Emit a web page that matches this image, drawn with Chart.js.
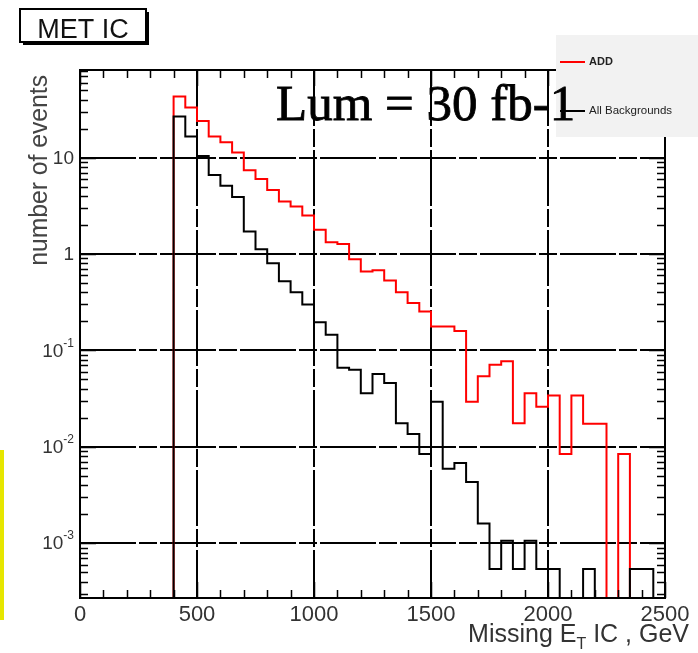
<!DOCTYPE html>
<html>
<head>
<meta charset="utf-8">
<title>MET IC</title>
<script src="https://cdn.jsdelivr.net/npm/chart.js@4.4.1/dist/chart.umd.min.js"></script>
<style>
    html, body { margin: 0; padding: 0; background: #fff; }
    #wrap { position: relative; width: 698px; height: 653px; }
</style>
</head>
<body>
<div id="wrap"><canvas id="met-chart" width="698" height="653"></canvas></div>
<script>
// Bin low edges in GeV (50 GeV bins), histogram ends at binEnd
const binEdges = [400, 450, 500, 550, 600, 650, 700, 750, 800, 850,
    900, 950, 1000, 1050, 1100, 1150, 1200, 1250, 1300, 1350,
    1400, 1450, 1500, 1550, 1600, 1650, 1700, 1750, 1800, 1850,
    1900, 1950, 2000, 2050, 2100, 2150, 2200, 2250, 2300, 2350,
    2400, 2450];
const binEnd = 2500;

// ADD signal (red)
const addCounts = [43, 33, 24, 16.5, 14.4, 11.3, 7.4, 6.0, 4.6, 3.5,
    3.1, 2.5, 1.78, 1.32, 1.27, 0.88, 0.66, 0.68, 0.53, 0.40,
    0.31, 0.253, 0.177, 0.177, 0.159, 0.0294, 0.054, 0.071, 0.077, 0.0175,
    0.036, 0.026, 0.034, 0.0084, 0.034, 0.0173, 0.0173, 0, 0.0084, 0,
    0, 0];

// All backgrounds (black)
const bkgCounts = [26.6, 16.5, 10.4, 6.6, 5.1, 3.9, 1.71, 1.12, 0.80, 0.52,
    0.40, 0.30, 0.196, 0.145, 0.066, 0.063, 0.036, 0.057, 0.046, 0.0175,
    0.0136, 0.0084, 0.0294, 0.0059, 0.0068, 0.0043, 0.0016, 0.00054, 0.00106, 0.00054,
    0.00106, 0.00054, 0.00054, 0, 0, 0.00054, 0, 0, 0, 0.00054,
    0.00054, 0];

// Axis ticks
const xTicks = [0, 500, 1000, 1500, 2000, 2500];
const yDecades = [0.001, 0.01, 0.1, 1, 10];
const yDecadeBase = ['10', '10', '10', '1', '10'];
const yDecadeExp = ['-3', '-2', '-1', '', ''];

const X_MIN = 0, X_MAX = 2500;
const Y_MIN = 2.7e-4, Y_MAX = 81;
// empty bins are drawn down at the frame bottom, like ROOT does
const FLOOR = 1e-7;

const SANS = "'Liberation Sans', Arial, Helvetica, sans-serif";
const SERIF = "'Liberation Serif', 'Times New Roman', serif";
const GRID_DASH = [56, 3, 18, 3];

/**
 * Turn bin contents into step points (low edges, plus closing edge)
 */
function histPoints(counts) {
    const pts = [{ x: binEdges[0] - 50, y: FLOOR }];
    counts.forEach((c, i) => {
        pts.push({ x: binEdges[i], y: c > 0 ? c : FLOOR });
    });
    pts.push({ x: binEnd, y: FLOOR });
    return pts;
}

function isDecade(v) {
    const l = Math.log10(v);
    return Math.abs(l - Math.round(l)) < 1e-6;
}

// Frame, inside ticks, labels, titles and the legend box, ROOT style
const rootDecor = {
    id: 'rootDecor',
    afterDraw(chart) {
        const ctx = chart.ctx;
        const area = chart.chartArea;
        const xs = chart.scales.x;
        const ys = chart.scales.y;

        ctx.save();

        // frame
        ctx.strokeStyle = '#000';
        ctx.lineWidth = 2;
        ctx.strokeRect(area.left, area.top, area.right - area.left, area.bottom - area.top);

        // x ticks, bottom and top
        ctx.lineWidth = 1.5;
        ctx.beginPath();
        for (let v = X_MIN; v <= X_MAX; v += 100) {
            const px = Math.round(xs.getPixelForValue(v)) + 0.5;
            const len = v % 500 === 0 ? 16 : 8;
            ctx.moveTo(px, area.bottom);
            ctx.lineTo(px, area.bottom - len);
            ctx.moveTo(px, area.top);
            ctx.lineTo(px, area.top + len);
        }
        // y ticks, left and right (log)
        for (let e = -4; e <= 1; e++) {
            for (let k = 1; k <= 9; k++) {
                const v = k * Math.pow(10, e);
                if (v < Y_MIN || v > Y_MAX) continue;
                const py = Math.round(ys.getPixelForValue(v)) + 0.5;
                const len = k === 1 ? 16 : 8;
                ctx.moveTo(area.left, py);
                ctx.lineTo(area.left + len, py);
                ctx.moveTo(area.right, py);
                ctx.lineTo(area.right - len, py);
            }
        }
        ctx.stroke();

        // y tick labels with superscripts
        ctx.fillStyle = '#333';
        ctx.textBaseline = 'middle';
        const rx = area.left - 6;
        yDecades.forEach((v, i) => {
            const py = ys.getPixelForValue(v);
            let sw = 0;
            if (yDecadeExp[i]) {
                ctx.font = '12px ' + SANS;
                sw = ctx.measureText(yDecadeExp[i]).width;
                ctx.textAlign = 'left';
                ctx.fillText(yDecadeExp[i], rx - sw, py - 7);
            }
            ctx.font = '19px ' + SANS;
            ctx.textAlign = 'right';
            ctx.fillText(yDecadeBase[i], rx - sw, py + 1);
        });

        // y title, rotated
        ctx.save();
        ctx.translate(47, 75);
        ctx.rotate(-Math.PI / 2);
        ctx.scale(0.95, 1);
        ctx.font = '26px ' + SANS;
        ctx.fillStyle = '#444';
        ctx.textAlign = 'right';
        ctx.textBaseline = 'alphabetic';
        ctx.fillText('number of events', 0, 0);
        ctx.restore();

        // x title with subscript T
        ctx.fillStyle = '#333';
        ctx.textBaseline = 'alphabetic';
        ctx.textAlign = 'left';
        const big = '25px ' + SANS;
        const small = '16px ' + SANS;
        const parts = [['Missing E', big, 0], ['T', small, 7], [' IC , GeV', big, 0]];
        let total = 0;
        parts.forEach(p => { ctx.font = p[1]; total += ctx.measureText(p[0]).width; });
        let tx = 689 - total;
        parts.forEach(p => {
            ctx.font = p[1];
            ctx.fillText(p[0], tx, 642 + p[2]);
            tx += ctx.measureText(p[0]).width;
        });

        // title box "MET IC" with shadow
        ctx.fillStyle = '#000';
        ctx.fillRect(23, 12, 126, 33);
        ctx.fillStyle = '#fff';
        ctx.fillRect(20, 9, 126, 33);
        ctx.lineWidth = 2;
        ctx.strokeStyle = '#000';
        ctx.strokeRect(20, 9, 126, 33);
        ctx.fillStyle = '#111';
        ctx.font = '27px ' + SANS;
        ctx.textAlign = 'center';
        ctx.fillText('MET IC', 83, 38);

        // legend box
        ctx.fillStyle = '#f2f2f2';
        ctx.fillRect(556, 35, 142, 102);
        ctx.lineWidth = 2;
        ctx.strokeStyle = '#ff0000';
        ctx.beginPath();
        ctx.moveTo(560, 62);
        ctx.lineTo(585, 62);
        ctx.stroke();
        ctx.strokeStyle = '#000';
        ctx.beginPath();
        ctx.moveTo(560, 111);
        ctx.lineTo(585, 111);
        ctx.stroke();
        ctx.fillStyle = '#222';
        ctx.font = 'bold 11px ' + SANS;
        ctx.textAlign = 'left';
        ctx.textBaseline = 'middle';
        ctx.fillText('ADD', 589, 62);
        ctx.font = '11.5px ' + SANS;
        ctx.fillText('All Backgrounds', 589, 111);

        // luminosity label
        ctx.fillStyle = '#000';
        ctx.strokeStyle = '#000';
        ctx.lineWidth = 0.8;
        ctx.font = '51px ' + SERIF;
        ctx.textBaseline = 'alphabetic';
        ctx.fillText('Lum = 30 fb-1', 276, 120);
        ctx.strokeText('Lum = 30 fb-1', 276, 120);

        // yellow margin mark
        ctx.fillStyle = '#e6e600';
        ctx.fillRect(0, 450, 4, 170);

        ctx.restore();
    }
};

const gridStyle = {
    lineWidth: 2,
    drawTicks: false
};

new Chart(document.getElementById('met-chart'), {
    type: 'line',
    data: {
        datasets: [{
            label: 'ADD',
            data: histPoints(addCounts),
            borderColor: '#ff0000',
            borderWidth: 2,
            stepped: true,
            pointRadius: 0,
            fill: false,
            order: 2
        }, {
            label: 'All Backgrounds',
            data: histPoints(bkgCounts),
            borderColor: '#000',
            borderWidth: 2,
            stepped: true,
            pointRadius: 0,
            fill: false,
            order: 1
        }]
    },
    options: {
        responsive: false,
        animation: false,
        devicePixelRatio: 1,
        layout: {
            padding: { top: 70, right: 33, left: 0, bottom: 0 }
        },
        plugins: {
            legend: { display: false },
            tooltip: { enabled: false }
        },
        scales: {
            x: {
                type: 'linear',
                min: X_MIN,
                max: X_MAX,
                afterFit: function(scale) { scale.height = 55; },
                afterBuildTicks: function(scale) {
                    scale.ticks = xTicks.map(v => ({ value: v }));
                },
                ticks: {
                    color: '#333',
                    font: { family: SANS, size: 22 },
                    padding: 4,
                    maxRotation: 0,
                    autoSkip: false,
                    callback: function(value) { return String(value); }
                },
                grid: Object.assign({}, gridStyle, {
                    color: function(c) {
                        const v = c.tick ? c.tick.value : 0;
                        return (v > X_MIN && v < X_MAX) ? '#000' : 'transparent';
                    }
                }),
                border: { display: false, dash: GRID_DASH }
            },
            y: {
                type: 'logarithmic',
                min: Y_MIN,
                max: Y_MAX,
                afterFit: function(scale) { scale.width = 80; },
                ticks: { display: false },
                grid: Object.assign({}, gridStyle, {
                    color: function(c) {
                        return (c.tick && isDecade(c.tick.value)) ? '#000' : 'transparent';
                    }
                }),
                border: { display: false, dash: GRID_DASH }
            }
        }
    },
    plugins: [rootDecor]
});
</script>
</body>
</html>
